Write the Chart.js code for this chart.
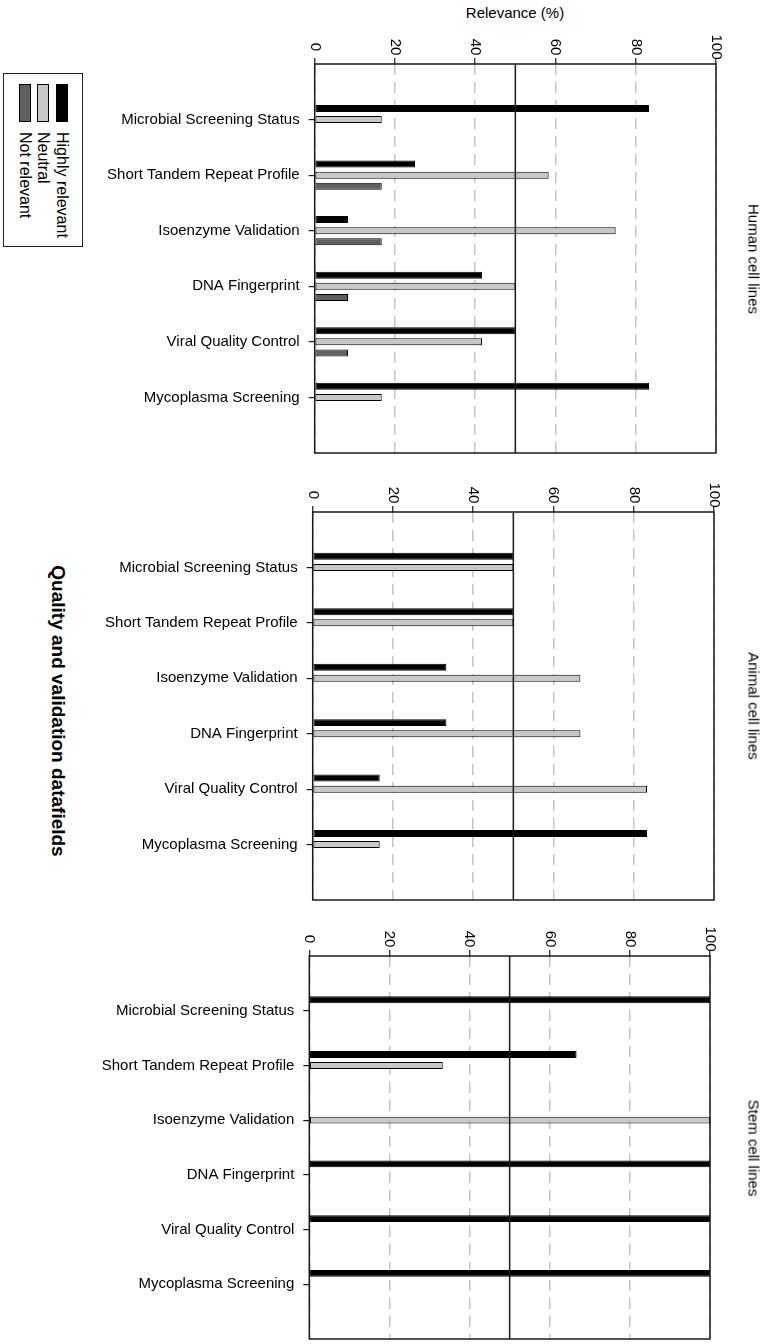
<!DOCTYPE html>
<html>
<head>
<meta charset="utf-8">
<script src="https://cdn.jsdelivr.net/npm/chart.js@4/dist/chart.umd.min.js"></script>
<style>
  html, body { margin: 0; padding: 0; background: #fff; }
  body { width: 767px; height: 1344px; position: relative; overflow: hidden;
         font-family: "Liberation Sans", Arial, sans-serif; color: #000; }
  canvas { position: absolute; left: 0; }
  .txt { position: absolute; white-space: nowrap; line-height: 1; }
  .rot { transform: translate(-50%, -50%) rotate(90deg); }
  .ctr { transform: translate(-50%, -50%); }
  .legend { position: absolute; left: 3px; top: 73px; width: 80px; height: 174px; border: 1px solid #222; box-sizing: border-box; }
  .sw { position: absolute; width: 12px; height: 38px; border: 1px solid #000; box-sizing: border-box; }
  .lt { position: absolute; white-space: nowrap; line-height: 1; font-size: 16px;
        transform-origin: 0 0; transform: rotate(90deg) translateY(-50%); }
</style>
</head>
<body>
<div class="txt ctr" style="left:515px; top:12px; font-size:15px;">Relevance (%)</div>
<div class="txt rot" style="left:58px; top:711px; font-size:19px; font-weight:bold;">Quality and validation datafields</div>
<div class="legend" id="legend"></div>

<script>
const categories = ['Microbial Screening Status', 'Short Tandem Repeat Profile', 'Isoenzyme Validation',
                    'DNA Fingerprint', 'Viral Quality Control', 'Mycoplasma Screening'];
const seriesNames = ['Highly relevant', 'Neutral', 'Not relevant'];
const seriesColors = ['#000000', '#c8c8c8', '#5f5f5f'];
const xTicks = [0, 20, 40, 60, 80, 100];
const referenceValue = 50;

// relevance (%) per category, top to bottom
const humanHighly = [83.3, 25, 8.3, 41.7, 50, 83.3];
const humanNeutral = [16.7, 58.3, 75, 50, 41.7, 16.7];
const humanNot = [0, 16.7, 16.7, 8.3, 8.3, 0];

const animalHighly = [50, 50, 33.3, 33.3, 16.7, 83.3];
const animalNeutral = [50, 50, 66.7, 66.7, 83.3, 16.7];
const animalNot = [0, 0, 0, 0, 0, 0];

const stemHighly = [100, 66.7, 0, 100, 100, 100];
const stemNeutral = [0, 33.3, 100, 0, 0, 0];
const stemNot = [0, 0, 0, 0, 0, 0];

const panels = [
    { title: 'Human cell lines', series: [humanHighly, humanNeutral, humanNot],
      box: { left: 314.7, right: 716, top: 64.3, bottom: 453.3 } },
    { title: 'Animal cell lines', series: [animalHighly, animalNeutral, animalNot],
      box: { left: 312.7, right: 714, top: 511.6, bottom: 899.4 } },
    { title: 'Stem cell lines', series: [stemHighly, stemNeutral, stemNot],
      box: { left: 309.3, right: 710, top: 956.2, bottom: 1339.6 } }
];

const FONT = '"Liberation Sans", Arial, sans-serif';
const AXIS_SPACE = 50;
const BOTTOM_PAD = 20;

// legend (rotated, like the rest of the figure)
const legend = document.getElementById('legend');
const legendX = [21, 39.3, 57.7]; // left to right: Not relevant, Neutral, Highly relevant
[2, 1, 0].forEach((s, k) => {
    const sw = document.createElement('div');
    sw.className = 'sw';
    sw.style.left = (legendX[k] - 6) + 'px';
    sw.style.top = '10px';
    sw.style.background = seriesColors[s];
    legend.appendChild(sw);
    const t = document.createElement('div');
    t.className = 'lt';
    t.style.left = legendX[k] + 'px';
    t.style.top = '58px';
    t.textContent = seriesNames[s];
    legend.appendChild(t);
});

// box, reference line and rotated tick labels
const panelFrame = {
    id: 'panelFrame',
    afterDatasetsDraw(chart) {
        const { ctx, chartArea: a, scales: { x } } = chart;
        ctx.save();
        ctx.strokeStyle = '#1a1a1a';
        ctx.lineWidth = 1.5;
        const rx = x.getPixelForValue(referenceValue);
        ctx.beginPath();
        ctx.moveTo(rx, a.top);
        ctx.lineTo(rx, a.bottom);
        ctx.stroke();
        ctx.strokeRect(a.left, a.top, a.right - a.left, a.bottom - a.top);

        ctx.fillStyle = '#000';
        ctx.font = '15px ' + FONT;
        ctx.textAlign = 'center';
        ctx.textBaseline = 'middle';
        xTicks.forEach(v => {
            ctx.save();
            ctx.translate(x.getPixelForValue(v), a.top - 17);
            ctx.rotate(Math.PI / 2);
            ctx.fillText(String(v), 0, 0);
            ctx.restore();
        });
        ctx.restore();
    }
};

panels.forEach(p => {
    const b = p.box;
    const canvas = document.createElement('canvas');
    canvas.width = 767;
    canvas.height = Math.round(b.bottom - b.top + AXIS_SPACE + BOTTOM_PAD);
    canvas.style.top = (b.top - AXIS_SPACE) + 'px';
    document.body.appendChild(canvas);

    const title = document.createElement('div');
    title.className = 'txt rot';
    title.style.left = '754px';
    title.style.top = ((b.top + b.bottom) / 2) + 'px';
    title.style.fontSize = '15px';
    title.textContent = p.title;
    document.body.appendChild(title);

    new Chart(canvas, {
        type: 'bar',
        data: {
            datasets: seriesNames.map((name, s) => ({
                label: name,
                data: p.series[s].map((v, i) => ({ x: v, y: i })),
                backgroundColor: seriesColors[s],
                borderColor: '#000',
                borderWidth: c => (c.raw && c.raw.x > 0 ? 1 : 0),
                borderSkipped: false,
                categoryPercentage: 0.6,
                barPercentage: 0.63
            }))
        },
        options: {
            indexAxis: 'y',
            responsive: false,
            animation: false,
            events: [],
            layout: { padding: { left: 0, right: 767 - b.right, top: 0, bottom: BOTTOM_PAD } },
            plugins: { legend: { display: false }, tooltip: { enabled: false } },
            scales: {
                x: {
                    type: 'linear',
                    position: 'top',
                    min: 0,
                    max: 100,
                    afterBuildTicks: s => { s.ticks = xTicks.map(v => ({ value: v })); },
                    ticks: { display: false },
                    grid: { color: '#c4c4c4', lineWidth: 1.5, tickColor: '#1a1a1a', tickLength: 6, tickWidth: 1.2 },
                    border: { display: false, dash: [11, 7] },
                    afterFit: s => { s.height = AXIS_SPACE; }
                },
                y: {
                    type: 'linear',
                    reverse: true,
                    offset: false,
                    min: -1,
                    max: categories.length,
                    afterBuildTicks: s => { s.ticks = categories.map((c, i) => ({ value: i })); },
                    ticks: {
                        callback: v => categories[v],
                        font: { size: 15, family: FONT },
                        color: '#000',
                        padding: 9
                    },
                    grid: { offset: false, drawOnChartArea: false, color: '#1a1a1a', tickLength: 6, lineWidth: 1.2 },
                    border: { display: false },
                    afterFit: s => { s.width = b.left; }
                }
            }
        },
        plugins: [panelFrame]
    });
});
</script>
</body>
</html>
